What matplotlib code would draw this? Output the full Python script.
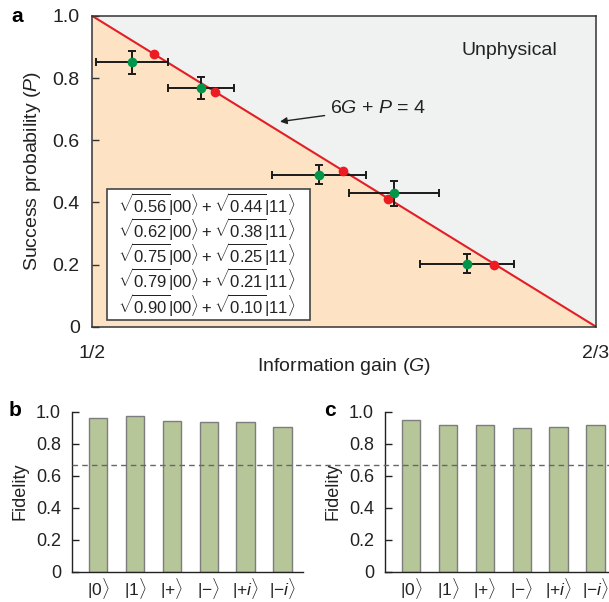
import numpy as np
import matplotlib
matplotlib.use("Agg")
import matplotlib.pyplot as plt
from matplotlib.patches import Rectangle, Polygon
from matplotlib.lines import Line2D

plt.rcParams['font.family'] = ['Liberation Sans', 'DejaVu Sans']
plt.rcParams['mathtext.fontset'] = 'custom'
plt.rcParams['mathtext.rm'] = 'Liberation Sans'
plt.rcParams['mathtext.it'] = 'Liberation Sans:italic'
plt.rcParams['mathtext.bf'] = 'Liberation Sans:bold'

# panel a: measured points (green) with error bars
meas_G = [0.5131, 0.5361, 0.5749, 0.5998, 0.6240]
meas_P = [0.851, 0.769, 0.489, 0.429, 0.203]
meas_Gerr = [0.0120, 0.0109, 0.0156, 0.0150, 0.0155]
meas_Perr = [0.037, 0.036, 0.031, 0.039, 0.031]
# theory points (red) on the bound
theo_G = [0.5203, 0.5406, 0.5830, 0.5980, 0.6330]
theo_P = [0.878, 0.755, 0.500, 0.410, 0.198]

states = [(0.56, 0.44), (0.62, 0.38), (0.75, 0.25), (0.79, 0.21), (0.90, 0.10)]

# panels b and c: fidelities
bar_labels = [r'$|0\rangle$', r'$|1\rangle$', r'$|{+}\rangle$', r'$|{-}\rangle$',
              r'$|{+}i\rangle$', r'$|{-}i\rangle$']
fid_b = [0.958, 0.975, 0.944, 0.933, 0.938, 0.906]
fid_c = [0.946, 0.915, 0.915, 0.896, 0.906, 0.919]
classical_limit = 2 / 3

W, H = 609, 602
fig = plt.figure(figsize=(W / 100, H / 100), dpi=100)

def px_axes(x0, y0, x1, y1):
    return fig.add_axes([x0 / W, 1 - y1 / H, (x1 - x0) / W, (y1 - y0) / H])

frame = '#333333'
txt = '#222222'
fs_a = 14

# ---------------- panel a ----------------
ax = px_axes(92.3, 16, 596, 326.7)
g0, g1 = 0.5, 2 / 3
ax.set_xlim(g0, g1)
ax.set_ylim(0, 1)
ax.add_patch(Polygon([[g0, 0], [g0, 1], [g1, 0]], closed=True, fc='#fde3c3', ec='none', zorder=0))
ax.add_patch(Polygon([[g0, 1], [g1, 1], [g1, 0]], closed=True, fc='#f0f2f1', ec='none', zorder=0))
gl = np.array([g0, g1])
ax.plot(gl, 4 - 6 * gl, color='#e31e26', lw=1.5, zorder=2)

ax.errorbar(meas_G, meas_P, xerr=meas_Gerr, yerr=meas_Perr, fmt='none',
            ecolor='#1a1a1a', elinewidth=1.4, capsize=3, capthick=1.4, zorder=3)
ax.plot(theo_G, theo_P, 'o', color='#ec1c24', ms=7, mec='none', zorder=4)
ax.plot(meas_G, meas_P, 'o', color='#00964a', ms=7, mec='none', zorder=5)

ax.text(0.829, 0.89, 'Unphysical', transform=ax.transAxes, ha='center', va='center', fontsize=fs_a, color=txt)
ax.annotate(r'6$G$ + $P$ = 4', xy=(0.5621, 0.660), xytext=(0.5787, 0.703),
            ha='left', va='center', fontsize=fs_a, color=txt,
            arrowprops=dict(arrowstyle='-|>', color=txt, lw=1.0, mutation_scale=10,
                            shrinkA=2, shrinkB=0))

# state legend box: one multi-line text
ax.add_patch(Rectangle((0.0286, 0.0216), 0.4034, 0.4214, transform=ax.transAxes,
                       fc='white', ec='#444444', lw=1.2, zorder=6))
state_lines = [r'$\sqrt{%.2f}|00\rangle + \sqrt{%.2f}|11\rangle$' % (a00, a11) for a00, a11 in states]
ax.text(0.051, 0.232, '\n'.join(state_lines), transform=ax.transAxes, ha='left', va='center',
        fontsize=12.0, color=txt, linespacing=0.92, zorder=7)

ax.set_yticks([0, 0.2, 0.4, 0.6, 0.8, 1.0])
ax.set_yticklabels(['0', '0.2', '0.4', '0.6', '0.8', '1.0'])
ax.set_xticks([g0, g1])
ax.set_xticklabels(['1/2', '2/3'])
ax.tick_params(axis='y', direction='in', length=5, width=1, color=frame, labelsize=fs_a, pad=9,
               labelcolor=txt)
ax.tick_params(axis='x', length=0, labelsize=fs_a, pad=13, labelcolor=txt)
ax.set_ylabel(r'Success probability ($P$)', fontsize=fs_a, labelpad=7, color=txt)
ax.set_xlabel(r'Information gain ($G$)', fontsize=fs_a, labelpad=-4, color=txt)
for s in ax.spines.values():
    s.set_color(frame)
    s.set_linewidth(1.1)
fig.text(17 / W, 1 - 17 / H, 'a', fontsize=15, fontweight='bold', ha='center', va='center')

# ---------------- panels b, c ----------------
def bar_panel(x0, fid, letter, lx):
    axb = px_axes(x0, 411.7, x0 + 231, 571.7)
    pos = np.arange(len(fid))
    axb.bar(pos, fid, width=0.5, color='#b7c698', edgecolor='#7d7d7d', linewidth=1.0, zorder=2)
    axb.set_xlim(-0.7, 5.55)
    axb.set_ylim(0, 1.0)
    axb.set_xticks(pos)
    axb.set_xticklabels(bar_labels)
    axb.set_yticks([0, 0.2, 0.4, 0.6, 0.8, 1.0])
    axb.set_yticklabels(['0', '0.2', '0.4', '0.6', '0.8', '1.0'])
    axb.tick_params(axis='y', direction='in', length=5, width=1, color='#222222', labelsize=13,
                    pad=8, labelcolor=txt)
    axb.tick_params(axis='x', length=0, labelsize=12.5, pad=3, labelcolor=txt)
    for side in ['top', 'right']:
        axb.spines[side].set_visible(False)
    for side in ['left', 'bottom']:
        axb.spines[side].set_color('#222222')
        axb.spines[side].set_linewidth(1.0)
    axb.set_ylabel('Fidelity', fontsize=13, labelpad=5, color=txt)
    fig.text(lx / W, 1 - 410 / H, letter, fontsize=15, fontweight='bold', ha='center', va='center')
    return axb

ax_b = bar_panel(72, fid_b, 'b', 15)
ax_c = bar_panel(385, fid_c, 'c', 330)

# dashed classical limit running across both bar panels
y_lim_px = ax_b.transData.transform((0, classical_limit))[1]
fig.add_artist(Line2D([72 / W, 1.0], [y_lim_px / H, y_lim_px / H], transform=fig.transFigure,
                      ls=(0, (4, 3)), color='#666666', lw=1.0, zorder=10))

fig.savefig('out.png', dpi=100)
